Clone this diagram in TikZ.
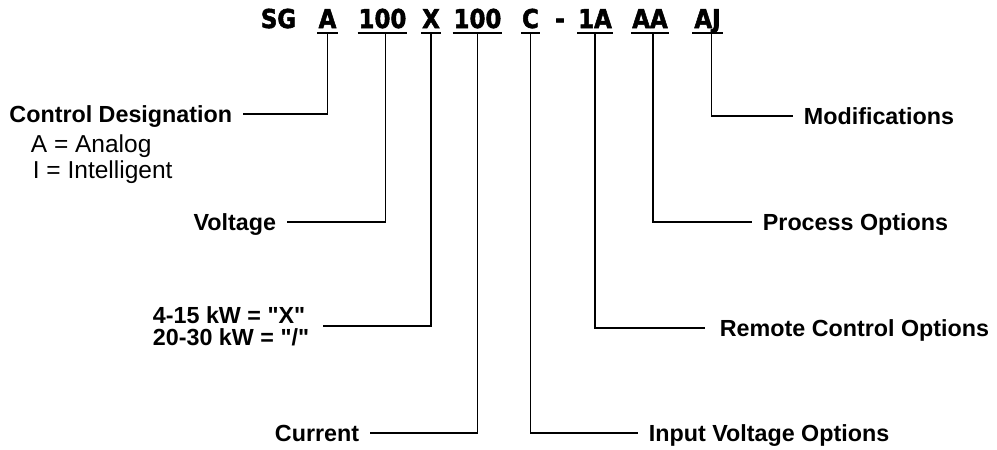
\documentclass[tikz,border=0pt]{standalone}
\usepackage{fontspec}
\setmainfont[Ligatures=TeXOff]{Liberation Sans}
\newfontfamily\codefont[FakeBold=2,FakeStretch=0.88]{DejaVu Sans Bold}
\usepackage{tikz}

\begin{document}
\begin{tikzpicture}[x=1pt, y=-1pt, line width=1.8pt,
  code/.style={font=\codefont\fontsize{26}{26}\selectfont, inner xsep=0pt, inner ysep=4pt, text height=19pt, text depth=0pt, anchor=base},
  lab/.style={font=\fontsize{23.3}{22}\selectfont\bfseries, inner xsep=10pt, inner ysep=0pt, text height=17pt, text depth=0pt},
  opt/.style={font=\fontsize{24.5}{26}\selectfont, inner sep=0pt, anchor=base west}]
  \useasboundingbox (0,0) rectangle (997,450);
  % model code
  \node[code] (sg) at (278.5,28) {SG};
  \node[code, minimum width=19pt] (a) at (327.5,28) {A};
  \node[code, minimum width=47pt] (v100) at (382.5,28) {100};
  \node[code, minimum width=18pt] (x) at (431,28) {X};
  \node[code, minimum width=45pt] (i100) at (477.5,28) {100};
  \node[code, minimum width=15pt] (c) at (530.5,28) {C};
  \node[code] (dash) at (560,28) {-};
  \node[code, minimum width=30pt] (r1a) at (595,28) {1A};
  \node[code, minimum width=30pt] (aa) at (650,28) {AA};
  \node[code, minimum width=29pt] (aj) at (707.5,28) {AJ};
  \foreach \n in {a,v100,x,i100,c,r1a,aa,aj}
    \draw (\n.south west) -- (\n.south east);

  % left labels
  \node[lab, anchor=east] (lcd) at (243,114) {Control Designation};
  \node[opt] (ana) at (30,152) {A = Analog};
  \node[opt] (int) at (32,178) {I = Intelligent};
  \node[lab, anchor=east] (lvolt) at (287,222) {Voltage};
  \node[lab, anchor=east, align=left, text height=39pt, inner xsep=13pt] (lkw) at (323,326)
    {4-15 kW = "X"\\20-30 kW = "/"};
  \node[lab, anchor=east] (lcur) at (370,433) {Current};

  % right labels
  \node[lab, anchor=west] (linp) at (638,433) {Input Voltage Options};
  \node[lab, anchor=west, inner xsep=14pt] (lrem) at (705,328) {Remote Control Options};
  \node[lab, anchor=west] (lproc) at (752,222) {Process Options};
  \node[lab, anchor=west] (lmod) at (793,116) {Modifications};

  \draw (a.south) |- (lcd.east);
  \draw ([xshift=3pt]v100.south) |- (lvolt.east);
  \draw (x.south) |- (lkw.east);
  \draw (i100.south) |- (lcur.east);
  \draw (c.south) |- (linp.west);
  \draw (r1a.south) |- (lrem.west);
  \draw ([xshift=3pt]aa.south) |- (lproc.west);
  \draw ([xshift=4pt]aj.south) |- (lmod.west);
\end{tikzpicture}
\end{document}
